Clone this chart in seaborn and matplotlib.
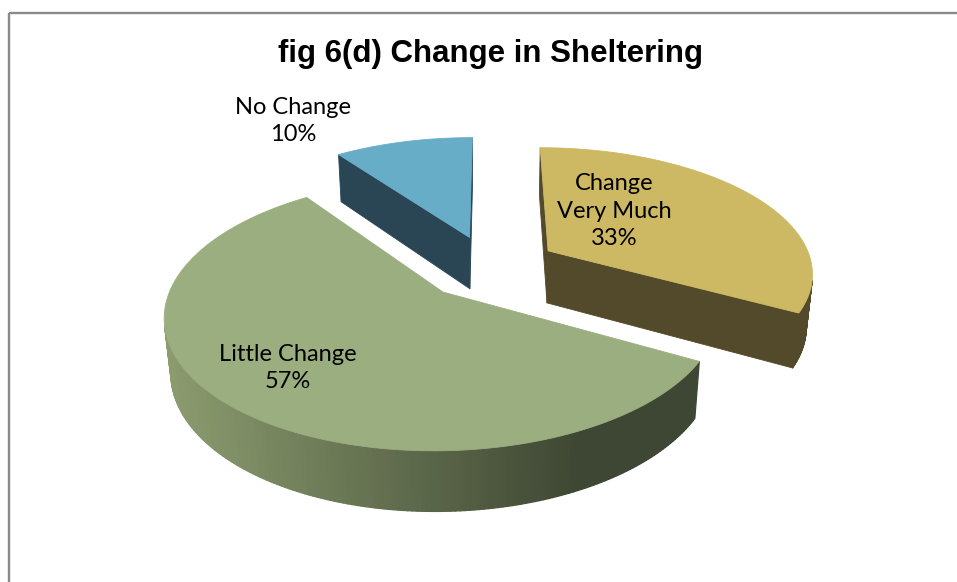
import numpy as np
import matplotlib
matplotlib.use("Agg")
import matplotlib.pyplot as plt
from matplotlib.patches import Polygon
import seaborn as sns

# --- data -------------------------------------------------------------
categories = ["Change\nVery Much", "Little Change", "No Change"]
shares = [33, 57, 10]
top_colors = ["#CDB964", "#9BAE80", "#67ADC8"]
side_light = ["#554C2B", "#8C9C6F", "#2A4654"]
side_dark = ["#524A2A", "#3E4733", "#2A4654"]
title = "fig 6(d) Change in Sheltering"

# --- layout (pixels) and 3-D view ---------------------------------------
W, H = 957, 582
CX, CY = 490, 267          # screen position of the pie centre (top face)
A = 265                    # radius scale at the centre depth
K = 0.16                   # perspective strength
ELEV = np.radians(28)      # viewing elevation
EXPLODE = 0.26             # slice offset, in radii
THICK = 0.23               # pie height, in radii
START = 90                 # first slice begins at 12 o'clock, clockwise
label_pos = {"Change\nVery Much": (614, 211),
             "Little Change": (288, 368),
             "No Change": (293, 121)}

SIN_E, COS_E = np.sin(ELEV), np.cos(ELEV)
CAM = np.array([0.0, -COS_E / K * COS_E, COS_E / K * SIN_E])


def proj(X, Y, Z):
    q = 1 + K * Y - (K / COS_E) * SIN_E * Z
    return CX + A * X / q, CY - A * (Y * SIN_E + Z * COS_E) / q


def visible(normal, point):
    return np.dot(normal, CAM - np.asarray(point)) > 0


sns.set_theme(style="white")
fig = plt.figure(figsize=(W / 100, H / 100), dpi=100)
ax = fig.add_axes([0, 0, 1, 1])
ax.set_xlim(0, W)
ax.set_ylim(H, 0)
ax.axis("off")

# slice angle ranges (counter-clockwise lo..hi), going clockwise from START
total = float(sum(shares))
slices = []
cum = 0.0
for i, v in enumerate(shares):
    hi = START - cum / total * 360
    cum += v
    lo = START - cum / total * 360
    mid = np.radians((lo + hi) / 2)
    ox, oy = EXPLODE * np.cos(mid), EXPLODE * np.sin(mid)
    slices.append(dict(i=i, lo=lo, hi=hi, ox=ox, oy=oy))

# paint from the back to the front
slices.sort(key=lambda s: -s["oy"])


def add_poly(pts, color, lw=0.6):
    ax.add_patch(Polygon(pts, closed=True, facecolor=color, edgecolor=color,
                         linewidth=lw, joinstyle="round"))


for s in slices:
    i, lo, hi, ox, oy = s["i"], s["lo"], s["hi"], s["ox"], s["oy"]
    grad = sns.blend_palette([side_light[i], side_dark[i]], 64)

    # outer curved side, strip by strip
    th = np.radians(np.linspace(lo, hi, 240))
    for a0, a1 in zip(th[:-1], th[1:]):
        am = (a0 + a1) / 2
        n = np.array([np.cos(am), np.sin(am), 0.0])
        p = np.array([ox + np.cos(am), oy + np.sin(am), 0.0])
        if not visible(n, p):
            continue
        pts = [proj(ox + np.cos(a0), oy + np.sin(a0), 0),
               proj(ox + np.cos(a1), oy + np.sin(a1), 0),
               proj(ox + np.cos(a1), oy + np.sin(a1), -THICK),
               proj(ox + np.cos(a0), oy + np.sin(a0), -THICK)]
        xm = np.mean([q[0] for q in pts])
        u = np.clip((xm - 165) / (575 - 165), 0, 1)
        add_poly(pts, grad[int(u * 63)], lw=0.9)

    # radial cut faces
    for ang, nang in ((lo, lo - 90), (hi, hi + 90)):
        a = np.radians(ang)
        n = np.array([np.cos(np.radians(nang)), np.sin(np.radians(nang)), 0.0])
        if not visible(n, [ox, oy, 0.0]):
            continue
        pts = [proj(ox, oy, 0), proj(ox + np.cos(a), oy + np.sin(a), 0),
               proj(ox + np.cos(a), oy + np.sin(a), -THICK),
               proj(ox, oy, -THICK)]
        add_poly(pts, side_dark[i])

    # top face
    th = np.radians(np.linspace(lo, hi, 240))
    pts = [proj(ox, oy, 0)] + [proj(ox + np.cos(a), oy + np.sin(a), 0) for a in th]
    add_poly(pts, top_colors[i])

# data labels
for name, v in zip(categories, shares):
    x, y = label_pos[name]
    ax.text(x, y, f"{name}\n{v}%", ha="center", va="center", fontsize=17,
            family="Lato", color="black", linespacing=1.4)

ax.text(490, 54, title, ha="center", va="center", fontsize=22.5,
        fontweight="bold", family="Liberation Sans", color="black")

# chart frame: only its top and left edges fall inside the image
ax.plot([9, W + 10], [13, 13], color="#8A8A8A", lw=1.7, solid_capstyle="butt")
ax.plot([9, 9], [13, H + 10], color="#8A8A8A", lw=1.7, solid_capstyle="butt")

fig.savefig("out.png", dpi=100)
